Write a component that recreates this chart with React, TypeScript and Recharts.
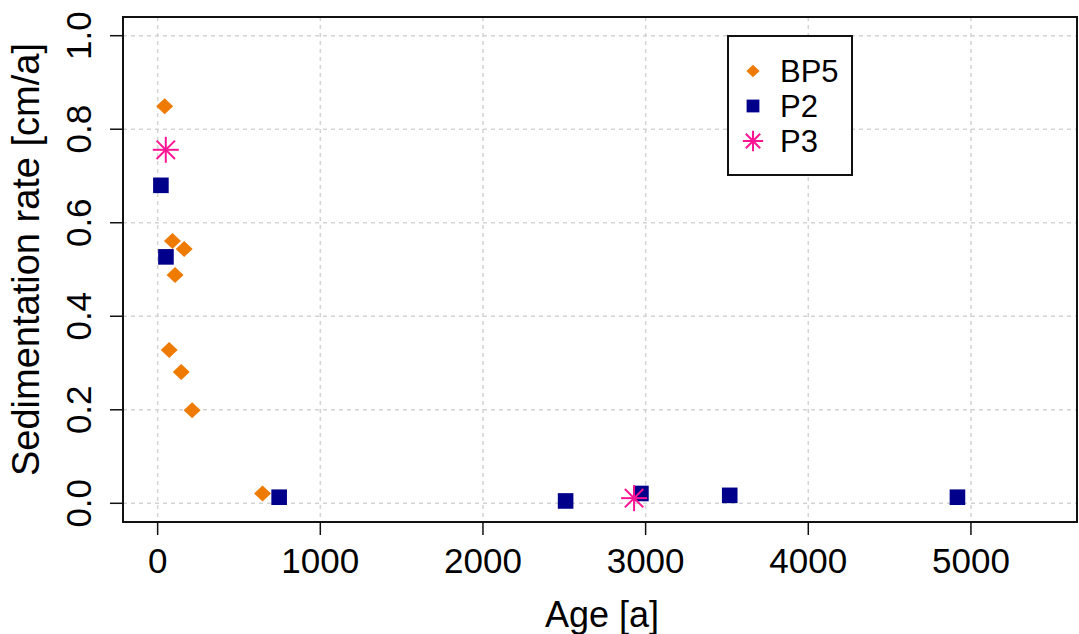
import React from 'react';
import {
  ScatterChart,
  Scatter,
  XAxis,
  YAxis,
  CartesianGrid,
  ReferenceArea,
  Legend,
} from 'recharts';

// ---- data ----
const bp5Age = [43, 91, 163, 107, 71, 145, 212, 645];
const bp5Rate = [0.849, 0.561, 0.544, 0.488, 0.328, 0.281, 0.199, 0.021];
const p2Age = [20, 51, 747, 2508, 2971, 3517, 4917];
const p2Rate = [0.68, 0.527, 0.013, 0.005, 0.021, 0.017, 0.013];
const p3Age = [50, 2929];
const p3Rate = [0.756, 0.011];

const xTicks = [0, 1000, 2000, 3000, 4000, 5000];
const yTicks = [0, 0.2, 0.4, 0.6, 0.8, 1.0];
const xDomain: [number, number] = [-213, 5652];
const yDomain: [number, number] = [-0.04, 1.04];

const seriesNames = ['BP5', 'P2', 'P3'];
const xTitle = 'Age [a]';
const yTitle = 'Sedimentation rate [cm/a]';

const ORANGE = '#EF7A00';
const NAVY = '#00008B';
const PINK = '#FF1493';
const FONT = '"Liberation Sans", Arial, sans-serif';

const zip = (xs: number[], ys: number[]) => xs.map((x, i) => ({ age: x, rate: ys[i] }));
const bp5Data = zip(bp5Age, bp5Rate);
const p2Data = zip(p2Age, p2Rate);
const p3Data = zip(p3Age, p3Rate);

// ---- marker shapes ----
const Diamond = ({ cx, cy, s = 1 }: any) => {
  const w = 8.5 * s;
  const h = 8 * s;
  return (
    <polygon
      points={`${cx - w},${cy} ${cx},${cy - h} ${cx + w},${cy} ${cx},${cy + h}`}
      fill={ORANGE}
    />
  );
};
const Square = ({ cx, cy, s = 1 }: any) => {
  const h = 7.8 * s;
  return <rect x={cx - h} y={cy - h} width={2 * h} height={2 * h} fill={NAVY} />;
};
const Star = ({ cx, cy, s = 1 }: any) => {
  const r = 13 * s;
  const d = 9.2 * s;
  return (
    <g stroke={PINK} strokeWidth={2} strokeLinecap="butt">
      <line x1={cx - r} y1={cy} x2={cx + r} y2={cy} />
      <line x1={cx} y1={cy - r} x2={cx} y2={cy + r} />
      <line x1={cx - d} y1={cy - d} x2={cx + d} y2={cy + d} />
      <line x1={cx - d} y1={cy + d} x2={cx + d} y2={cy - d} />
    </g>
  );
};

const XTick = ({ x, y, payload }: any) => (
  <text x={x} y={y + 36} textAnchor="middle" fontSize={35} fontFamily={FONT} fill="#000">
    {String(payload.value)}
  </text>
);
const YTick = ({ x, y, payload }: any) => {
  const bx = x - 17;
  return (
    <text
      x={bx}
      y={y}
      transform={`rotate(-90, ${bx}, ${y})`}
      textAnchor="middle"
      fontSize={35}
      fontFamily={FONT}
      fill="#000"
    >
      {Number(payload.value).toFixed(1)}
    </text>
  );
};

const XLabel = (props: any) => {
  const vb = props.viewBox || { x: 123, y: 522, width: 954, height: 112 };
  return (
    <text x={vb.x + vb.width / 2 + 2} y={vb.y + 105} textAnchor="middle" fontSize={36} fontFamily={FONT} fill="#000">
      {xTitle}
    </text>
  );
};
const YLabel = (props: any) => {
  const vb = props.viewBox || { x: 0, y: 17, width: 123, height: 505 };
  const cx = 39;
  const cy = vb.y + vb.height / 2 - 10;
  return (
    <text
      x={cx}
      y={cy}
      transform={`rotate(-90, ${cx}, ${cy})`}
      textAnchor="middle"
      fontSize={38}
      fontFamily={FONT}
      fill="#000"
    >
      {yTitle}
    </text>
  );
};

const legendMarkers = [
  (cx: number, cy: number) => <Diamond cx={cx} cy={cy} s={0.78} />,
  (cx: number, cy: number) => <Square cx={cx} cy={cy} s={0.82} />,
  (cx: number, cy: number) => <Star cx={cx} cy={cy} s={0.78} />,
];

const LegendBox = () => (
  <div
    style={{
      width: 126,
      height: 141,
      boxSizing: 'border-box',
      border: '2px solid #111',
      background: '#fff',
      position: 'relative',
    }}
  >
    <svg width={122} height={137} style={{ position: 'absolute', left: 0, top: 0 }}>
      {seriesNames.map((n, i) => {
        const cy = 34 + i * 35;
        return (
          <g key={n}>
            {legendMarkers[i](24, cy)}
            <text x={51} y={cy + 11} fontSize={31} fontFamily={FONT} fill="#000">
              {n}
            </text>
          </g>
        );
      })}
    </svg>
  </div>
);

export default function App() {
  return (
    <div style={{ position: 'absolute', left: 0, top: 0, width: 1079, height: 634, background: '#fff' }}>
      <ScatterChart width={1079} height={634} margin={{ top: 17, right: 2, bottom: 0, left: 0 }}>
        <CartesianGrid stroke="#d3d3d3" strokeWidth={1.5} strokeDasharray="4 4" />
        <XAxis
          type="number"
          dataKey="age"
          domain={xDomain}
          ticks={xTicks}
          allowDataOverflow
          interval={0}
          height={112}
          tickSize={13}
          axisLine={false}
          tickLine={{ stroke: '#111', strokeWidth: 1.5 }}
          tick={<XTick />}
          label={{ content: XLabel } as any}
        />
        <YAxis
          type="number"
          dataKey="rate"
          domain={yDomain}
          ticks={yTicks}
          allowDataOverflow
          interval={0}
          width={123}
          tickSize={13}
          axisLine={false}
          tickLine={{ stroke: '#111', strokeWidth: 1.5 }}
          tick={<YTick />}
          label={{ content: YLabel } as any}
        />
        <ReferenceArea
          x1={xDomain[0]}
          x2={xDomain[1]}
          y1={yDomain[0]}
          y2={yDomain[1]}
          fill="none"
          fillOpacity={0}
          stroke="#111"
          strokeWidth={2}
          ifOverflow="visible"
        />
        <Scatter name="BP5" data={bp5Data} shape={(p: any) => <Diamond cx={p.cx} cy={p.cy} />} isAnimationActive={false} />
        <Scatter name="P2" data={p2Data} shape={(p: any) => <Square cx={p.cx} cy={p.cy} />} isAnimationActive={false} />
        <Scatter name="P3" data={p3Data} shape={(p: any) => <Star cx={p.cx} cy={p.cy} />} isAnimationActive={false} />
        <Legend
          layout="vertical"
          align="center"
          verticalAlign="middle"
          content={() => <LegendBox />}
          wrapperStyle={{ position: 'absolute', left: 727, top: 35, width: 126, height: 141 }}
        />
      </ScatterChart>
    </div>
  );
}
